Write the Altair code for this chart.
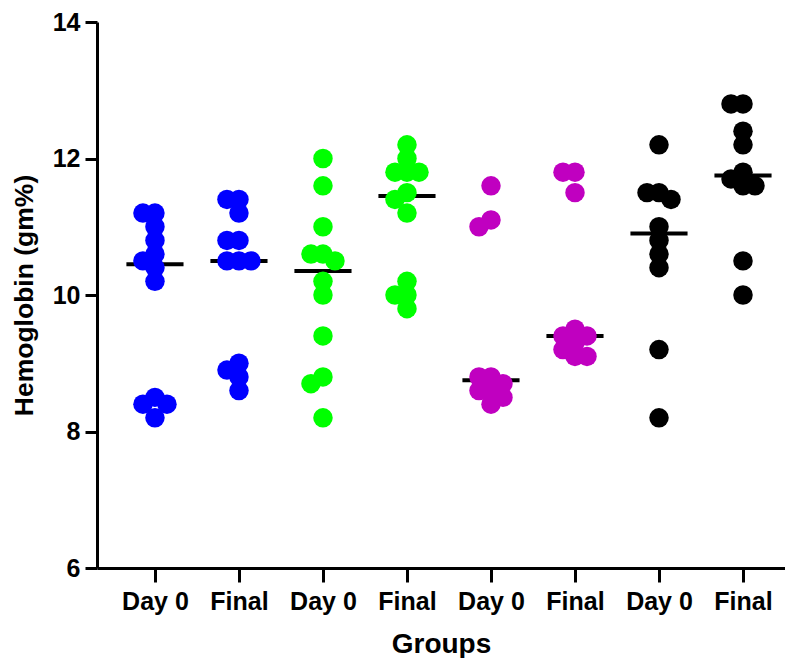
import math
import altair as alt
import pandas as pd

# ---- data ----
tick_labels = ["Day 0", "Final", "Day 0", "Final", "Day 0", "Final", "Day 0", "Final"]
group_colors = ["#0000FF", "#0000FF", "#00FF00", "#00FF00",
                "#C000C0", "#C000C0", "#000000", "#000000"]

g1_day0 = [11.2, 11.2, 11.0, 10.8, 10.6, 10.5, 10.4, 10.2, 8.5, 8.2, 8.4, 8.4]
g1_final = [11.4, 11.4, 11.2, 10.8, 10.8, 10.5, 10.5, 10.5, 9.0, 8.9, 8.8, 8.6]
g2_day0 = [12.0, 11.6, 11.0, 10.6, 10.6, 10.5, 10.2, 10.0, 9.4, 8.8, 8.7, 8.2]
g2_final = [12.2, 12.0, 11.8, 11.8, 11.8, 11.5, 11.4, 11.2, 10.2, 10.0, 10.0, 9.8]
g3_day0 = [11.6, 11.1, 11.0, 8.8, 8.8, 8.7, 8.6, 8.6, 8.5, 8.4]
g3_final = [11.8, 11.8, 11.5, 9.5, 9.4, 9.4, 9.3, 9.2, 9.1, 9.1]
g4_day0 = [12.2, 11.5, 11.5, 11.4, 11.0, 10.8, 10.6, 10.4, 9.2, 8.2]
g4_final = [12.8, 12.8, 12.4, 12.2, 11.8, 11.7, 11.6, 11.6, 10.5, 10.0]

all_groups = [g1_day0, g1_final, g2_day0, g2_final, g3_day0, g3_final, g4_day0, g4_final]
y_ticks = [6, 8, 10, 12, 14]

# ---- layout constants ----
PLOT_W = 688
PLOT_H = 546
X_DOMAIN = [-0.69, 7.5]
Y_DOMAIN = [6, 14]
PX_PER_Y = PLOT_H / (Y_DOMAIN[1] - Y_DOMAIN[0])
PX_PER_X = PLOT_W / (X_DOMAIN[1] - X_DOMAIN[0])
STEP = 12      # horizontal spread step in px
MIN_DIST = 12  # minimum centre distance in px

# simple beeswarm-style spreading (computed, not typed)
rows = []
for gi, vals in enumerate(all_groups):
    placed = []
    order = [0]
    for k in range(1, 8):
        order += [-k, k]
    for v in sorted(vals, reverse=True):
        ox = 0
        for k in order:
            ox = k * STEP
            if all(math.hypot(ox - px, (v - pv) * PX_PER_Y) >= MIN_DIST for px, pv in placed):
                break
        placed.append((ox, v))
        rows.append({"idx": gi, "hb": v, "xpos": gi + ox / PX_PER_X,
                     "color": group_colors[gi]})

df = pd.DataFrame(rows)

label_array = "[" + ",".join("'" + t + "'" for t in tick_labels) + "]"

x_scale = alt.Scale(domain=X_DOMAIN, nice=False, zero=False)
x_enc = alt.X("xpos:Q", scale=x_scale,
              axis=alt.Axis(values=list(range(len(tick_labels))),
                            labelExpr=label_array + "[datum.value]",
                            title="Groups", tickSize=14, labelPadding=7,
                            titlePadding=16, labelFlush=False,
                            titleFontSize=28))
y_enc = alt.Y("hb:Q",
              scale=alt.Scale(domain=Y_DOMAIN, nice=False, zero=False),
              axis=alt.Axis(values=y_ticks, format="d", title="Hemoglobin (gm%)",
                            tickSize=12, labelPadding=5, titlePadding=14,
                            labelFlush=False, titleFontSize=26.5))

base = alt.Chart(df)

medians = base.transform_aggregate(
    med="median(hb)", groupby=["idx"]
).transform_calculate(
    x1="datum.idx - 0.34", x2="datum.idx + 0.34"
).mark_rule(color="black", strokeWidth=4).encode(
    x=alt.X("x1:Q", scale=x_scale),
    x2="x2:Q",
    y=alt.Y("med:Q"),
)

dots = base.mark_circle(size=380, opacity=1).encode(
    x=x_enc,
    y=y_enc,
    color=alt.Color("color:N", scale=None),
)

chart = alt.layer(medians, dots).properties(
    width=PLOT_W, height=PLOT_H,
    autosize=alt.AutoSizeParams(type="none"),
    padding={"left": 89, "top": 14, "right": 0, "bottom": 90},
).configure_view(stroke=None).configure_axis(
    grid=False,
    domainColor="black", domainWidth=3,
    tickColor="black", tickWidth=3,
    labelFont="Liberation Sans", labelFontWeight="bold", labelFontSize=25,
    labelColor="black",
    titleFont="Liberation Sans", titleFontWeight="bold",
    titleColor="black",
)

chart.save("out.html", embed_options={"renderer": "svg", "actions": False})
